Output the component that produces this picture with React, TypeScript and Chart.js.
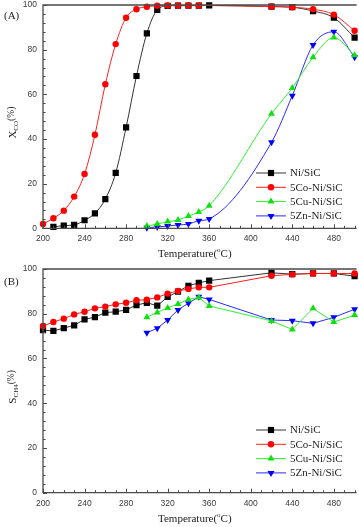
import React, { useEffect, useRef } from "react";
import { Chart, registerables } from "chart.js";

Chart.register(...registerables);

// ---- Data -----------------------------------------------------------------
const seriesNames = ["Ni/SiC", "5Co-Ni/SiC", "5Cu-Ni/SiC", "5Zn-Ni/SiC"];

const xTicks = [200, 240, 280, 320, 360, 400, 440, 480];
const yTicks = [0, 20, 40, 60, 80, 100];

// (A) CO conversion
const tempNiA = [210, 220, 230, 240, 250, 260, 270, 280, 290, 300, 310, 320, 330, 340, 350, 360, 420, 440, 460, 480, 500];
const xcoNi = [0.6, 1.2, 1.5, 3.6, 6.7, 13.1, 24.8, 45.2, 68.2, 87.3, 97.8, 99.6, 99.7, 99.7, 99.7, 99.8, 99.3, 99.0, 97.3, 94.3, 85.4];
const tempCoA = [200, 210, 220, 230, 240, 250, 260, 270, 280, 290, 300, 310, 320, 330, 340, 350, 420, 440, 460, 480, 500];
const xcoCo = [1.9, 4.5, 7.9, 14.2, 24.3, 41.9, 64.5, 82.5, 94.3, 98.1, 99.2, 99.7, 99.8, 99.8, 99.8, 99.8, 99.3, 99.0, 98.1, 95.7, 88.5];
const tempDopedA = [300, 310, 320, 330, 340, 350, 360, 420, 440, 460, 480, 500];
const xcoCu = [1.0, 1.9, 3.0, 3.7, 5.5, 7.3, 10.1, 51.3, 62.8, 76.6, 85.4, 77.5];
const xcoZn = [0.3, 0.6, 1.0, 1.5, 1.9, 3.4, 4.2, 38.5, 59.4, 82.1, 88.0, 76.6];

// (B) CH4 selectivity
const tempFullB = [200, 210, 220, 230, 240, 250, 260, 270, 280, 290, 300, 310, 320, 330, 340, 350, 360, 420, 440, 460, 480, 500];
const sNi = [72.7, 72.3, 73.6, 74.8, 77.5, 78.5, 80.5, 80.9, 81.7, 83.9, 84.9, 83.6, 87.5, 89.9, 92.5, 93.8, 94.8, 98.3, 97.7, 98.0, 98.0, 96.8];
const sCo = [74.5, 76.3, 77.8, 79.7, 80.9, 82.4, 83.2, 84.2, 84.9, 86.0, 86.3, 87.3, 89.0, 90.2, 91.1, 91.8, 91.8, 97.0, 97.6, 98.0, 98.0, 98.0];
const tempDopedB = [300, 310, 320, 330, 340, 350, 360, 420, 440, 460, 480, 500];
const sCu = [78.4, 80.6, 82.6, 84.4, 86.4, 87.3, 83.5, 76.8, 73.0, 82.4, 76.3, 79.4];
const sZn = [71.5, 73.5, 77.2, 81.7, 84.7, 87.6, 86.4, 77.2, 76.9, 75.7, 78.4, 82.0];

// ---- Styling ----------------------------------------------------------------
type Marker = "rect" | "circle" | "triUp" | "triDown";
const seriesStyle: { color: string; line: string; marker: Marker }[] = [
  { color: "#000000", line: "#333333", marker: "rect" },
  { color: "#ff0000", line: "#ff2020", marker: "circle" },
  { color: "#10e010", line: "#30f030", marker: "triUp" },
  { color: "#0000ff", line: "#2a2aff", marker: "triDown" },
];

const SANS = '"Liberation Sans", Arial, sans-serif';
const SERIF = '"Liberation Serif", "Times New Roman", serif';

function pts(xs: number[], ys: number[]) {
  return xs.map((x, i) => ({ x, y: ys[i] }));
}

function drawMarker(ctx: CanvasRenderingContext2D, m: Marker, x: number, y: number, color: string) {
  ctx.fillStyle = color;
  ctx.beginPath();
  if (m === "rect") {
    ctx.rect(x - 3.1, y - 3.1, 6.2, 6.2);
  } else if (m === "circle") {
    ctx.arc(x, y, 3.2, 0, Math.PI * 2);
  } else if (m === "triUp") {
    ctx.moveTo(x, y - 4);
    ctx.lineTo(x + 3.5, y + 2);
    ctx.lineTo(x - 3.5, y + 2);
    ctx.closePath();
  } else {
    ctx.moveTo(x, y + 4);
    ctx.lineTo(x + 3.5, y - 2);
    ctx.lineTo(x - 3.5, y - 2);
    ctx.closePath();
  }
  ctx.fill();
}

type Part = { text: string; size: number; dy: number };

function drawRich(ctx: CanvasRenderingContext2D, parts: Part[], cx: number, cy: number) {
  let total = 0;
  const widths = parts.map((p) => {
    ctx.font = `${p.size}px ${SERIF}`;
    const w = ctx.measureText(p.text).width;
    total += w;
    return w;
  });
  let x = cx - total / 2;
  ctx.textAlign = "left";
  ctx.textBaseline = "middle";
  parts.forEach((p, i) => {
    ctx.font = `${p.size}px ${SERIF}`;
    ctx.fillText(p.text, x, cy + p.dy);
    x += widths[i];
  });
}

// Frame, inward ticks, tick labels, titles and the legend of one panel
const framePlugin = {
  id: "frame",
  afterDraw(chart: any, _args: any, opts: any) {
    const { ctx, chartArea: a, scales } = chart;
    const sx = scales.x;
    const sy = scales.y;
    ctx.save();

    // axis box (left, bottom, top)
    ctx.strokeStyle = "#4a4a4a";
    ctx.lineWidth = 1.3;
    ctx.beginPath();
    ctx.moveTo(a.right + 2, a.top);
    ctx.lineTo(a.left, a.top);
    ctx.lineTo(a.left, a.bottom);
    ctx.lineTo(a.right + 2, a.bottom);
    ctx.stroke();

    // ticks
    ctx.lineWidth = 1;
    ctx.beginPath();
    for (let v = sx.min; v <= sx.max; v += 10) {
      const px = Math.round(sx.getPixelForValue(v)) + 0.5;
      const len = (v - 200) % 40 === 0 ? 4 : 2.5;
      ctx.moveTo(px, a.bottom);
      ctx.lineTo(px, a.bottom - len);
    }
    for (let v = sy.min; v <= sy.max; v += 4) {
      const py = Math.round(sy.getPixelForValue(v)) + 0.5;
      const len = v % 20 === 0 ? 4 : 2.5;
      ctx.moveTo(a.left, py);
      ctx.lineTo(a.left + len, py);
    }
    ctx.stroke();

    // tick labels
    ctx.fillStyle = "#3a3a3a";
    ctx.font = `8.5px ${SANS}`;
    ctx.textAlign = "center";
    ctx.textBaseline = "middle";
    xTicks.forEach((t) => ctx.fillText(String(t), sx.getPixelForValue(t), a.bottom + 10.5));
    ctx.textAlign = "right";
    yTicks.forEach((t) => ctx.fillText(String(t), a.left - 6, sy.getPixelForValue(t)));

    // axis titles
    ctx.fillStyle = "#222222";
    drawRich(
      ctx,
      [
        { text: "Temperature(", size: 11, dy: 0 },
        { text: "o", size: 7, dy: -4 },
        { text: "C)", size: 11, dy: 0 },
      ],
      (a.left + a.right) / 2 - 4,
      a.bottom + 26
    );
    ctx.save();
    ctx.translate(13, (a.top + a.bottom) / 2 + 6);
    ctx.rotate(-Math.PI / 2);
    drawRich(
      ctx,
      [
        { text: opts.yMain, size: 11, dy: 0 },
        { text: opts.ySub, size: 7, dy: 3 },
        { text: "(%)", size: 9.5, dy: -2 },
      ],
      0,
      0
    );
    ctx.restore();

    // panel label
    ctx.font = `11px ${SERIF}`;
    ctx.textAlign = "left";
    ctx.textBaseline = "middle";
    ctx.fillText(opts.panel, 4, a.top + opts.panelDy);

    // legend
    seriesNames.forEach((name, i) => {
      const st = seriesStyle[i];
      const ly = opts.legendY + i * 14.3;
      ctx.strokeStyle = st.line;
      ctx.lineWidth = 1;
      ctx.beginPath();
      ctx.moveTo(256, ly);
      ctx.lineTo(286, ly);
      ctx.stroke();
      drawMarker(ctx, st.marker, 271, ly, st.color);
      ctx.fillStyle = "#222222";
      ctx.font = `11px ${SERIF}`;
      ctx.textAlign = "left";
      ctx.fillText(name, 290, ly + 0.5);
    });

    ctx.restore();
  },
};

function dataset(i: number, data: { x: number; y: number }[], smooth: boolean) {
  const st = seriesStyle[i];
  const styleMap: Record<Marker, string> = { rect: "rect", circle: "circle", triUp: "triangle", triDown: "triangle" };
  const radius: Record<Marker, number> = { rect: 4.4, circle: 3.2, triUp: 4, triDown: 4 };
  return {
    label: seriesNames[i],
    data,
    borderColor: st.line,
    borderWidth: 1,
    backgroundColor: st.color,
    pointBackgroundColor: st.color,
    pointBorderWidth: 0,
    pointStyle: styleMap[st.marker],
    pointRotation: st.marker === "triDown" ? 180 : 0,
    pointRadius: radius[st.marker],
    cubicInterpolationMode: smooth ? "monotone" : "default",
    tension: 0,
    clip: 8,
  };
}

type PanelProps = {
  height: number;
  padTop: number;
  padBottom: number;
  datasets: any[];
  frame: any;
};

function Panel({ height, padTop, padBottom, datasets, frame }: PanelProps) {
  const ref = useRef<HTMLCanvasElement | null>(null);
  useEffect(() => {
    if (!ref.current) return;
    const chart = new Chart(ref.current, {
      type: "line",
      data: { datasets },
      options: {
        animation: false,
        responsive: false,
        devicePixelRatio: 1,
        layout: { padding: { left: 43, right: 0, top: padTop, bottom: padBottom } },
        scales: {
          x: { type: "linear", min: 200, max: 500, display: false },
          y: { type: "linear", min: 0, max: 100, display: false },
        },
        plugins: {
          legend: { display: false },
          tooltip: { enabled: false },
          frame,
        } as any,
      },
      plugins: [framePlugin as any],
    });
    return () => chart.destroy();
  }, []);
  return <canvas ref={ref} width={359} height={height} style={{ display: "block", width: 359, height }} />;
}

export default function App() {
  // dataset 0 is drawn on top, so Co comes first
  const dsA = [
    dataset(1, pts(tempCoA, xcoCo), true),
    dataset(0, pts(tempNiA, xcoNi), true),
    dataset(2, pts(tempDopedA, xcoCu), true),
    dataset(3, pts(tempDopedA, xcoZn), true),
  ];
  const dsB = [
    dataset(1, pts(tempFullB, sCo), false),
    dataset(0, pts(tempFullB, sNi), false),
    dataset(2, pts(tempDopedB, sCu), false),
    dataset(3, pts(tempDopedB, sZn), false),
  ];
  return (
    <div style={{ position: "absolute", left: 0, top: 0, width: 359, height: 527, background: "#ffffff" }}>
      <Panel
        height={262}
        padTop={5}
        padBottom={33.7}
        datasets={dsA}
        frame={{ yMain: "X", ySub: "CO", panel: "(A)", panelDy: 11, legendY: 173 }}
      />
      <Panel
        height={265}
        padTop={7}
        padBottom={34.3}
        datasets={dsB}
        frame={{ yMain: "S", ySub: "CH4", panel: "(B)", panelDy: 13, legendY: 168 }}
      />
    </div>
  );
}
